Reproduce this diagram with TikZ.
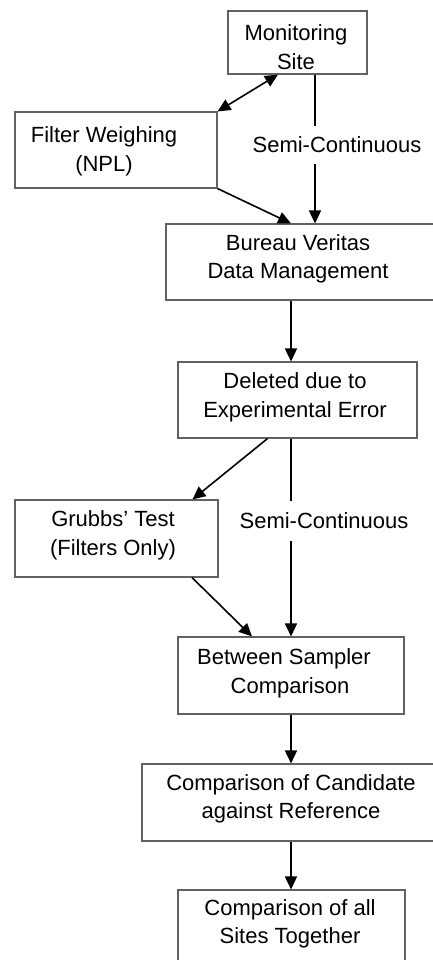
\documentclass[tikz,border=0pt]{standalone}
\usepackage{fontspec}
\setmainfont{Liberation Sans}
\usetikzlibrary{arrows.meta}
\begin{document}
\begin{tikzpicture}[x=1pt,y=-1pt,
  box/.style={draw=black!62, line width=1.1pt, rectangle, inner sep=0pt},
  txt/.style={align=center, font=\fontsize{22}{28.5}\selectfont, inner sep=0pt},
  lbl/.style={font=\fontsize{22}{28.5}\selectfont, inner sep=11pt},
  conn/.style={line width=1.6pt, -{Triangle[length=13pt,width=12pt]}},
  biconn/.style={line width=1.6pt, {Triangle[length=13pt,width=12pt]}-{Triangle[length=13pt,width=12pt]}},
  plainline/.style={line width=1.6pt}]
\useasboundingbox (0,0) rectangle (433,960);
\clip (0,0) rectangle (433,960);
\fill[white] (0,0) rectangle (433,960);

% spine and helper columns
\coordinate (spine) at (291,0);
\coordinate (sccol) at (315,0);

% boxes
\node[box, minimum width=139pt, minimum height=63pt] (mon)  at (297.5,42.5) {};
\node[box, minimum width=202pt, minimum height=76pt] (filt) at (116,150) {};
\node[box, minimum width=284pt, minimum height=76pt] (bv)   at (308,262) {};
\node[box, minimum width=239pt, minimum height=76pt] (del)  at (297.5,400) {};
\node[box, minimum width=203pt, minimum height=77pt] (gr)   at (116.5,538.5) {};
\node[box, minimum width=226pt, minimum height=77pt] (bs)   at (291,675.5) {};
\node[box, minimum width=308pt, minimum height=77pt] (cand) at (296,802.5) {};
\node[box, minimum width=227pt, minimum height=77pt] (last) at (291.5,928.5) {};

% texts
\node[txt] (mon-t)  at (296,47) {Monitoring\\Site};
\node[txt] (filt-t) at (104,151.5) {Filter Weighing\\(NPL)};
\node[txt] (bv-t)   at (298,259) {Bureau Veritas\\Data Management};
\node[txt] (del-t)  at (295,397.5) {Deleted due to\\Experimental Error};
\node[txt] (gr-t)   at (113,535.5) {Grubbs’ Test\\(Filters Only)};
\node[txt] (bs-t)   at (284,673.5) {Between Sampler\\\hspace*{12pt}Comparison};
\node[txt] (cand-t) at (291,799) {Comparison of Candidate\\against Reference};
\node[txt] (last-t) at (290,924) {Comparison of all\\Sites Together};

% connector labels
\node[lbl] (sc1) at (337,145) {Semi-Continuous};
\node[lbl, inner sep=12pt] (sc2) at (324,521) {Semi-Continuous};

% connectors
\draw[biconn] ([xshift=-19.5pt]mon.south) -- (filt.north east);
\draw[plainline] (mon.south -| sccol) -- (sc1.north -| sccol);
\draw[conn] (sc1.south -| sccol) -- (bv.north -| sccol);
\draw[conn] (filt.south east) -- (bv.north -| spine);
\draw[conn] (bv.south -| spine) -- (del.north -| spine);
\draw[conn] ([xshift=-30pt]del.south) -- ([xshift=76pt]gr.north);
\draw[plainline] (del.south -| spine) -- (sc2.north -| spine);
\draw[conn] (sc2.south -| spine) -- (bs.north -| spine);
\draw[conn] ([xshift=75.5pt]gr.south) -- ([xshift=-39pt]bs.north);
\draw[conn] (bs.south -| spine) -- (cand.north -| spine);
\draw[conn] (cand.south -| spine) -- (last.north -| spine);
\end{tikzpicture}
\end{document}
